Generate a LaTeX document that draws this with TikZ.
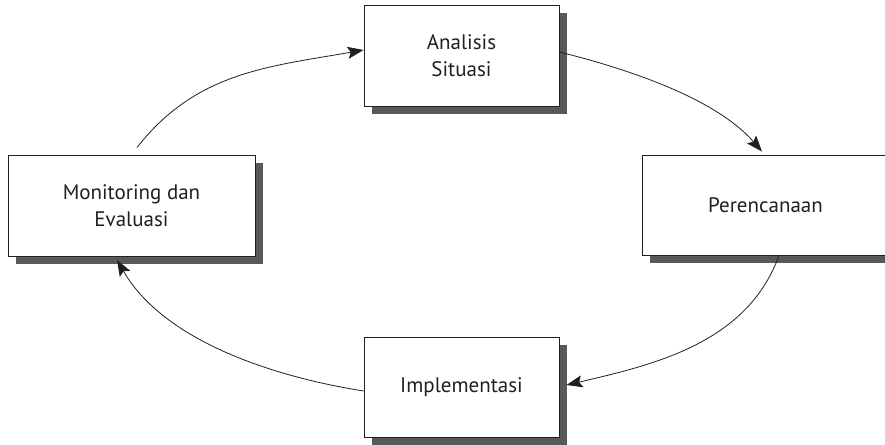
\documentclass[tikz,border=0pt]{standalone}
\usepackage{fontspec}
\setmainfont{PT Sans}
\usetikzlibrary{shadows,arrows.meta}
\definecolor{ink}{HTML}{231F20}
\definecolor{shade}{HTML}{58595B}

\begin{document}
\begin{tikzpicture}[x=1pt,y=1pt,
    stage/.style={draw=ink, line width=0.9pt, fill=white, text=ink, align=center,
      font=\fontsize{21}{27}\selectfont, inner sep=0pt,
      drop shadow={shadow xshift=8pt, shadow yshift=-8pt, fill=shade, opacity=1}},
    flow/.style={draw=ink, line width=0.8pt, -{Stealth[length=16pt,width=12pt,inset=3pt]}}]
    \useasboundingbox (0,0) rectangle (885,444);
    \clip (0,0) rectangle (885,444);
    \node[stage, minimum width=195pt, minimum height=101pt] (ana) at (461.5,388.5) {Analisis\\Situasi};
    \node[stage, minimum width=247pt, minimum height=101pt] (mon) at (131.5,238.5) {Monitoring dan\\Evaluasi};
    \node[stage, minimum width=247pt, minimum height=100pt] (per) at (765.5,239) {Perencanaan};
    \node[stage, minimum width=195pt, minimum height=100pt] (imp) at (461.5,57) {Implementasi};

    \draw[flow] ([xshift=5.5pt,yshift=7pt]mon.north) to[out=52,in=190] ([yshift=5.5pt]ana.west);
    \draw[flow] ([yshift=3.5pt]ana.east) to[out=-14,in=131,looseness=0.8] ([xshift=-3.5pt,yshift=3pt]per.north);
    \draw[flow] ([xshift=13.5pt]per.south) to[out=-110,in=13,looseness=0.95] ([xshift=7pt,yshift=2pt]imp.east);
    \draw[flow] ([yshift=-4pt]imp.west) to[out=171,in=-60,looseness=0.85] ([xshift=-14.5pt,yshift=-3.5pt]mon.south);
\end{tikzpicture}
\end{document}
